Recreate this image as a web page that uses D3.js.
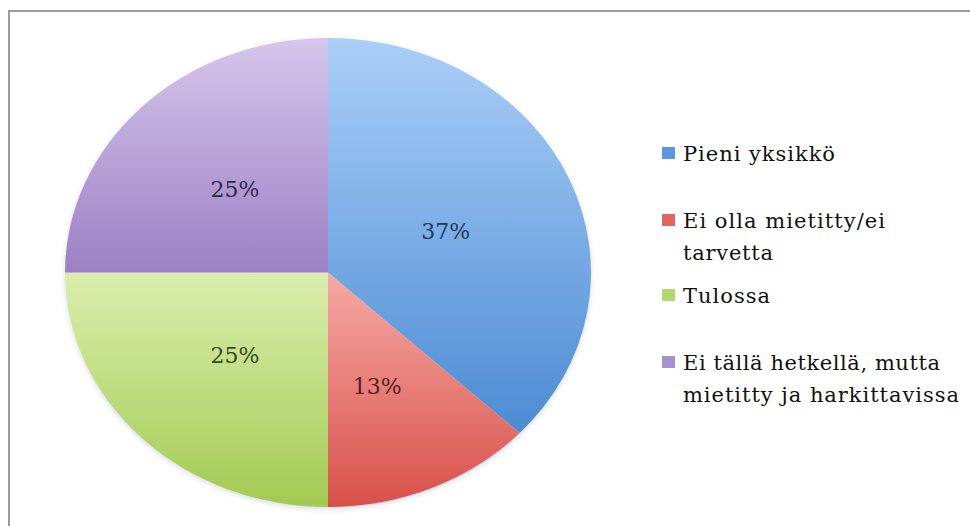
<!DOCTYPE html>
<html>
<head>
<meta charset="utf-8">
<script src="https://cdn.jsdelivr.net/npm/d3@7"></script>
<style>
  html, body { margin: 0; padding: 0; background: #fff; }
  svg { display: block; }
</style>
</head>
<body>
<svg id="chart" width="970" height="526"></svg>
<script>
// Survey answers and their shares (percent)
const categories = [
  "Pieni yksikkö",
  "Ei olla mietitty/ei tarvetta",
  "Tulossa",
  "Ei tällä hetkellä, mutta mietitty ja harkittavissa"
];
const legendLines = [
  ["Pieni yksikkö"],
  ["Ei olla mietitty/ei", "tarvetta"],
  ["Tulossa"],
  ["Ei tällä hetkellä, mutta", "mietitty ja harkittavissa"]
];
// Set widths for each legend line, so the wide serif face fills the same space
const legendLineWidths = [
  [152],
  [202, 90],
  [87],
  [257, 276]
];
const values = [37, 13, 25, 25];
const sliceLabels = ["37%", "13%", "25%", "25%"];

// Per-slice gradient stops (light top, dark bottom) and label ink
const lightColors = ["#abcff7", "#f6aaa5", "#dbeeae", "#d6c6ec"];
const darkColors  = ["#4c8bd4", "#d8504a", "#a3ca52", "#9c80c4"];
const labelColors = ["#1e3a63", "#5c1e1a", "#3a4a1a", "#35264f"];
const legendColors = ["#5b97de", "#e06560", "#b4d770", "#a891cf"];

const svg = d3.select("#chart");
const defs = svg.append("defs");

// Frame along the top and left edges
svg.append("line").attr("x1", 8).attr("y1", 11).attr("x2", 970).attr("y2", 11)
  .attr("stroke", "#9a9a9a").attr("stroke-width", 2);
svg.append("line").attr("x1", 9).attr("y1", 10).attr("x2", 9).attr("y2", 526)
  .attr("stroke", "#9a9a9a").attr("stroke-width", 2);

values.forEach((v, i) => {
  const g = defs.append("linearGradient").attr("id", "grad" + i)
    .attr("x1", 0).attr("y1", 0).attr("x2", 0).attr("y2", 1);
  g.append("stop").attr("offset", "0%").attr("stop-color", lightColors[i]);
  g.append("stop").attr("offset", "100%").attr("stop-color", darkColors[i]);
});

const shadow = defs.append("filter").attr("id", "soft")
  .attr("x", "-10%").attr("y", "-10%").attr("width", "120%").attr("height", "120%");
shadow.append("feDropShadow").attr("dx", 0).attr("dy", 2).attr("stdDeviation", 2.5)
  .attr("flood-color", "#6070a0").attr("flood-opacity", 0.25);

// Elliptical pie: circle of radius ry stretched horizontally
const cx = 328, cy = 272.5, rx = 263, ry = 234.5;
const pie = d3.pie().sort(null).value(d => d).startAngle(0).endAngle(2 * Math.PI);
const arcs = pie(values);
const arc = d3.arc().innerRadius(0).outerRadius(ry);

const pieG = svg.append("g")
  .attr("transform", `translate(${cx},${cy}) scale(${rx / ry},1)`)
  .attr("filter", "url(#soft)");

pieG.selectAll("path").data(arcs).join("path")
  .attr("d", arc)
  .attr("fill", (d, i) => `url(#grad${i})`);

// Percentage labels placed at a fraction of the radius along each slice's mid-angle
const labelRadius = [0.48, 0.52, 0.5, 0.5];
const labelAngleShift = [0.04, 0.04, 0, 0];
arcs.forEach((d, i) => {
  const a = (d.startAngle + d.endAngle) / 2 + labelAngleShift[i];
  const r = labelRadius[i];
  const x = cx + Math.sin(a) * rx * r;
  const y = cy - Math.cos(a) * ry * r;
  svg.append("text")
    .attr("x", x).attr("y", y)
    .attr("text-anchor", "middle").attr("dominant-baseline", "central")
    .attr("font-family", "'DejaVu Serif', serif")
    .attr("font-size", 22)
    .attr("fill", labelColors[i])
    .text(sliceLabels[i]);
});

// Legend
const legendTop = [161, 228, 303, 370];
const legend = svg.append("g").attr("font-family", "'DejaVu Serif', serif")
  .attr("font-size", 21).attr("fill", "#111");
categories.forEach((c, i) => {
  const gy = legendTop[i];
  legend.append("rect").attr("x", 662).attr("y", gy - 14).attr("width", 13).attr("height", 12)
    .attr("fill", legendColors[i]);
  const t = legend.append("text").attr("x", 683).attr("y", gy);
  legendLines[i].forEach((line, j) => {
    t.append("tspan").attr("x", 683).attr("y", gy + j * 32)
      .attr("textLength", legendLineWidths[i][j]).attr("lengthAdjust", "spacing")
      .text(line);
  });
});
</script>
</body>
</html>
